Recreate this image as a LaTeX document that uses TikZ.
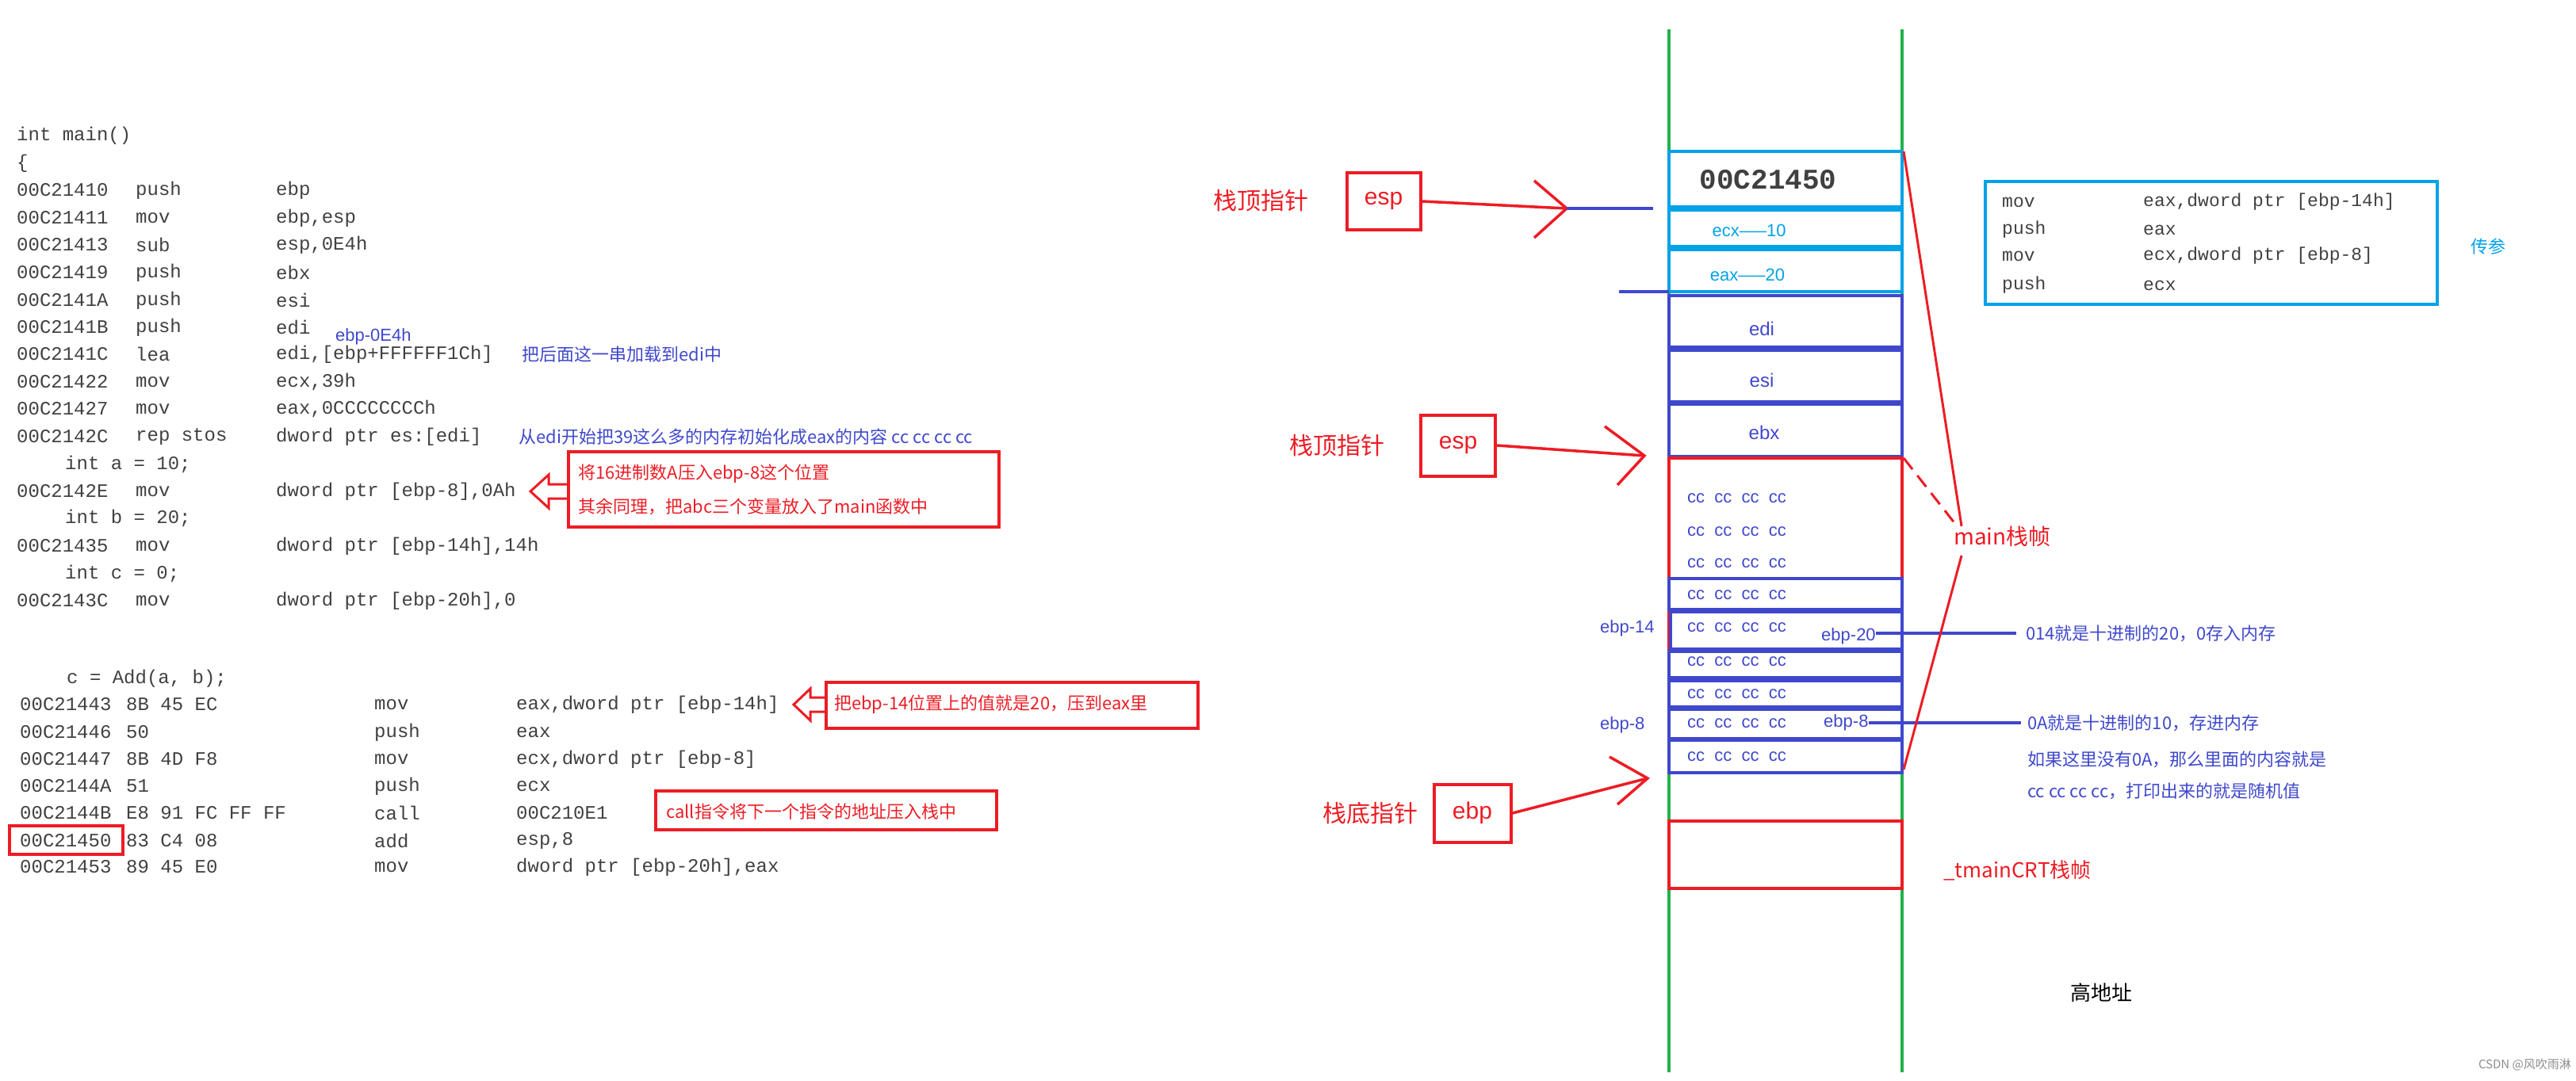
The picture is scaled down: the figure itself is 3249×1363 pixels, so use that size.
\documentclass[tikz,border=0pt]{standalone}
\usepackage{fontspec}
\setmainfont{Liberation Sans}
\newfontfamily\codefont{Liberation Mono}
\newfontfamily\cjk{Noto Sans CJK SC}
\definecolor{rd}{HTML}{ED1C24}
\definecolor{bl}{HTML}{3F48CC}
\definecolor{cy}{HTML}{00A2E8}
\definecolor{gr}{HTML}{22B14C}
\definecolor{cd}{HTML}{404040}
\begin{document}
\begin{tikzpicture}[x=1pt,y=-1pt,
  code/.style={anchor=west,inner sep=0pt,text=cd,font=\codefont\fontsize{24}{24}\selectfont},
  bnote/.style={anchor=west,inner sep=0pt,text=bl,font=\cjk\fontsize{22}{22}\selectfont},
  rnote/.style={anchor=west,inner sep=0pt,text=rd,font=\cjk\fontsize{22}{22}\selectfont},
  big/.style={anchor=west,inner sep=0pt,text=rd,font=\cjk\fontsize{30}{30}\selectfont},
  rbox/.style={draw=rd,line width=4pt},
  cell/.style={draw=bl,line width=4.5pt},
  ccell/.style={draw=cy,line width=4.5pt},
  stxt/.style={inner sep=0pt,text=bl,font=\fontsize{24}{24}\selectfont},
  cctxt/.style={anchor=west,inner sep=0pt,text=bl,font=\fontsize{22}{22}\selectfont},
  reg/.style={draw=rd,line width=4pt,inner sep=0pt,minimum width=93pt,minimum height=72pt,text=rd,font=\fontsize{30}{30}\selectfont},
  rarr/.style={draw=rd,line width=3.5pt},
  bline/.style={draw=bl,line width=4.5pt}]
\useasboundingbox (0,0) rectangle (3249,1363);
\newcommand\cl[5]{%
  \node[code] (#1a) at (21,#2) {#3};
  \node[code] (#1m) at (171,#2) {#4};
  \node[code] (#1o) at (348,#2) {#5};}
\newcommand\dl[6]{%
  \node[code] (#1a) at (25,#2) {#3};
  \node[code] (#1b) at (159,#2) {#4};
  \node[code] (#1m) at (472,#2) {#5};
  \node[code] (#1o) at (651,#2) {#6};}
% ---- left code
\node[code] (hdr) at (21,171) {int main()};
\node[code] (brace) at (21,206) {\{};
\cl{l1}{240}{00C21410}{push}{ebp}
\cl{l2}{275}{00C21411}{mov}{ebp,esp}
\cl{l3}{309}{00C21413}{sub}{esp,0E4h}
\cl{l4}{344}{00C21419}{push}{ebx}
\cl{l5}{379}{00C2141A}{push}{esi}
\cl{l6}{413}{00C2141B}{push}{edi}
\cl{l7}{447}{00C2141C}{lea}{edi,[ebp+FFFFFF1Ch]}
\cl{l8}{482}{00C21422}{mov}{ecx,39h}
\cl{l9}{516}{00C21427}{mov}{eax,0CCCCCCCCh}
\cl{l10}{551}{00C2142C}{rep stos}{dword ptr es:[edi]}
\node[code] (sa) at (82,586) {int a = 10;};
\cl{l11}{620}{00C2142E}{mov}{dword ptr [ebp-8],0Ah}
\node[code] (sb) at (82,654) {int b = 20;};
\cl{l12}{689}{00C21435}{mov}{dword ptr [ebp-14h],14h}
\node[code] (sc) at (82,724) {int c = 0;};
\cl{l13}{758}{00C2143C}{mov}{dword ptr [ebp-20h],0}
\node[code] (sadd) at (84,856) {c = Add(a, b);};
\dl{m1}{889}{00C21443}{8B 45 EC}{mov}{eax,dword ptr [ebp-14h]}
\dl{m2}{924}{00C21446}{50}{push}{eax}
\dl{m3}{958}{00C21447}{8B 4D F8}{mov}{ecx,dword ptr [ebp-8]}
\dl{m4}{992}{00C2144A}{51}{push}{ecx}
\dl{m5}{1026}{00C2144B}{E8 91 FC FF FF}{call}{00C210E1}
\dl{m6}{1061}{00C21450}{83 C4 08}{add}{esp,8}
\dl{m7}{1094}{00C21453}{89 45 E0}{mov}{dword ptr [ebp-20h],eax}
\draw[rbox] (12,1042) rectangle (155,1078);
% notes
\node[bnote,font=\fontsize{22}{22}\selectfont] (e0) at (423,425) {ebp-0E4h};
\node[bnote] (n1) at (658,447) {把后面这一串加载到edi中};
\node[bnote] (n2) at (654,551) {从edi开始把39这么多的内存初始化成eax的内容 cc cc cc cc};
\draw[rbox] (717,570) rectangle (1260,665);
\node[rnote] (n3) at (729,598) {将16进制数A压入ebp-8这个位置};
\node[rnote] (n4) at (729,639) {其余同理，把abc三个变量放入了main函数中};
\draw[rd,line width=3pt] (669,620)--(692,599)--(692,611)--(717,611)--(717,629)--(692,629)--(692,641)--cycle;
\draw[rbox] (1042,861) rectangle (1511,919);
\node[rnote] (n5) at (1052,889) {把ebp-14位置上的值就是20，压到eax里};
\draw[rd,line width=3pt] (1001,889)--(1022,869)--(1022,880)--(1042,880)--(1042,898)--(1022,898)--(1022,909)--cycle;
\draw[rbox] (827,998) rectangle (1257,1047);
\node[rnote] (n6) at (840,1024) {call指令将下一个指令的地址压入栈中};
% ---- stack
\draw[gr,line width=4pt] (2105,37)--(2105,1353);
\draw[gr,line width=4pt] (2399,37)--(2399,1353);
\draw[ccell] (2105,191) rectangle (2399,261);
\node[inner sep=0pt,text=cd,font=\codefont\bfseries\fontsize{36}{36}\selectfont] (ret) at (2230,227) {00C21450};
\draw[ccell] (2105,265) rectangle (2399,311);
\node[inner sep=0pt,text=cy,font=\fontsize{22}{22}\selectfont] (ecx) at (2206,291) {ecx-----10};
\draw[ccell] (2105,315) rectangle (2399,368);
\node[inner sep=0pt,text=cy,font=\fontsize{22}{22}\selectfont] (eax) at (2204,347) {eax-----20};
\draw[cell] (2105,373) rectangle (2399,438);
\node[stxt] (edi) at (2222,415) {edi};
\draw[cell] (2105,442) rectangle (2399,507);
\node[stxt] (esi) at (2222,480) {esi};
\draw[cell] (2105,510) rectangle (2399,576);
\node[stxt] (ebx) at (2225,546) {ebx};
\draw[draw=rd,line width=4pt] (2105,578) rectangle (2399,975);
\draw[cell] (2105,730) rectangle (2399,769);
\draw[cell] (2107,772) rectangle (2399,819);
\draw[cell] (2105,822) rectangle (2399,855);
\draw[cell] (2105,859) rectangle (2399,892);
\draw[cell] (2105,895) rectangle (2399,932);
\draw[cell] (2105,934) rectangle (2399,975);
\foreach \y [count=\i] in {629,671,711,751,792,835,876,913,955}
  \node[cctxt] (cc\i) at (2128,\y) {cc\ \ cc\ \ cc\ \ cc};
\draw[rbox] (2105,1036) rectangle (2399,1121);
% side labels
\node[stxt,anchor=west,font=\fontsize{22}{22}\selectfont] (l14) at (2018,793) {ebp-14};
\node[stxt,anchor=west,font=\fontsize{22}{22}\selectfont] (l8) at (2018,915) {ebp-8};
\node[stxt,anchor=west,font=\fontsize{22}{22}\selectfont] (l20) at (2297,803) {ebp-20};
\node[stxt,anchor=west,font=\fontsize{22}{22}\selectfont] (l8b) at (2300,912) {ebp-8};
\coordinate (p20) at (2543,799);
\coordinate (p8) at (2549,912);
\draw[bline] (l20.east) ++(0,-4) -- (p20);
\draw[bline] (l8b.east) -- (p8);
\node[bnote] (t1) at (2555,799) {014就是十进制的20，0存入内存};
\node[bnote] (t2) at (2557,912) {0A就是十进制的10，存进内存};
\node[bnote] (t3) at (2557,958) {如果这里没有0A，那么里面的内容就是};
\node[bnote] (t4) at (2557,998) {cc cc cc cc，打印出来的就是随机值};
% main frame brace lines
\node[big,font=\cjk\fontsize{28}{28}\selectfont] (mf) at (2464,677) {main栈帧};
\coordinate (ft) at (2401,191);
\coordinate (fb) at (2401,971);
\coordinate (fd) at (2401,578);
\draw[rd,line width=3pt] (ft) -- (mf.north west -| 2474,0) ;
\draw[rd,line width=3pt] (fb) -- (2474,701);
\draw[rd,line width=3pt,dashed,dash pattern=on 18pt off 10pt] (fd) -- (2466,661);
\node[rnote,font=\cjk\fontsize{26}{26}\selectfont] (crt) at (2451,1098) {\_tmainCRT栈帧};
\node[inner sep=0pt,anchor=west,font=\cjk\fontsize{26}{26}\selectfont] (hi) at (2611,1253) {高地址};
% code box
\draw[ccell] (2504,229) rectangle (3074,384);
\node[code,font=\codefont\fontsize{23}{23}\selectfont] (r1a) at (2525,255) {mov};
\node[code,font=\codefont\fontsize{23}{23}\selectfont] (r1b) at (2703,255) {eax,dword ptr [ebp-14h]};
\node[code,font=\codefont\fontsize{23}{23}\selectfont] (r2a) at (2525,290) {push};
\node[code,font=\codefont\fontsize{23}{23}\selectfont] (r2b) at (2703,290) {eax};
\node[code,font=\codefont\fontsize{23}{23}\selectfont] (r3a) at (2525,323) {mov};
\node[code,font=\codefont\fontsize{23}{23}\selectfont] (r3b) at (2703,323) {ecx,dword ptr [ebp-8]};
\node[code,font=\codefont\fontsize{23}{23}\selectfont] (r4a) at (2525,360) {push};
\node[code,font=\codefont\fontsize{23}{23}\selectfont] (r4b) at (2703,360) {ecx};
\node[inner sep=0pt,anchor=west,text=cy,font=\cjk\fontsize{22}{22}\selectfont] (cs) at (3116,311) {传参};
% pointers
\node[big] (top1) at (1530,253) {栈顶指针};
\node[reg] (esp1) at (1745,254) {esp};
\coordinate (a1) at (1976,263);
\draw[rarr] (esp1.east) -- (a1);
\draw[rarr] (1935,228) -- (a1) -- (1935,300);
\draw[bline] (a1) -- (2085,263);
\coordinate (b2) at (2042,368);
\draw[bline] (b2) -- (2105,368);
\node[big] (top2) at (1626,562) {栈顶指针};
\node[reg,minimum width=94pt,minimum height=77pt] (esp2) at (1839,562) {esp};
\coordinate (a2) at (2074,575);
\draw[rarr] (esp2.east) -- (a2);
\draw[rarr] (2024,538) -- (a2) -- (2040,612);
\node[big] (bot) at (1668,1026) {栈底指针};
\node[reg,minimum width=97pt,minimum height=73pt] (ebp) at (1857,1026) {ebp};
\coordinate (a3) at (2078,982);
\draw[rarr] (ebp.east) -- (a3);
\draw[rarr] (2030,955) -- (a3) -- (2040,1015);
\node[inner sep=0pt,anchor=east,text=black!45,font=\cjk\fontsize{15}{15}\selectfont] (wm) at (3243,1343) {CSDN @风吹雨淋};
\end{tikzpicture}
\end{document}
